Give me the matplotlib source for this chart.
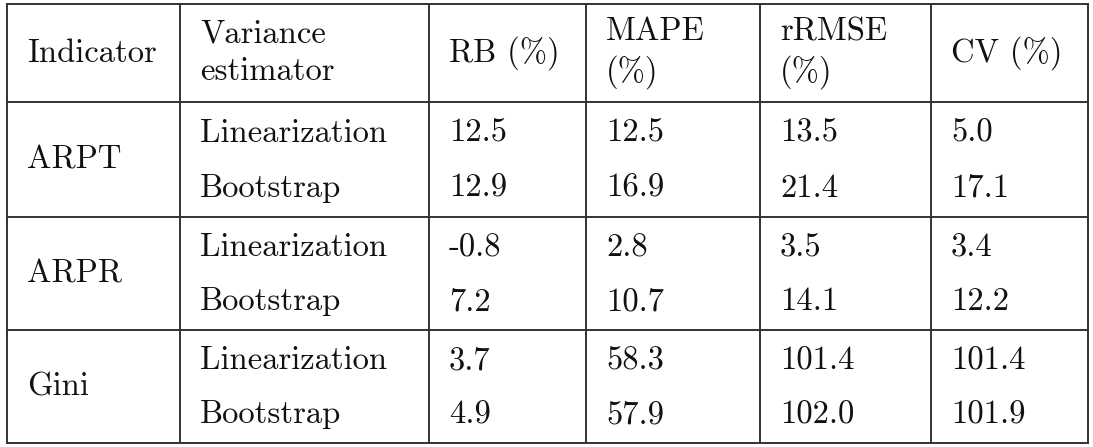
import matplotlib
matplotlib.use("Agg")
import matplotlib.pyplot as plt

headers = ["Indicator", "Variance\nestimator", "RB (%)", "MAPE\n(%)", "rRMSE\n(%)", "CV (%)"]
indicators = ["ARPT", "ARPR", "Gini"]
estimators = ["Linearization", "Bootstrap"]
rb = [12.5, 12.9, -0.8, 7.2, 3.7, 4.9]
mape = [12.5, 16.9, 2.8, 10.7, 58.3, 57.9]
rrmse = [13.5, 21.4, 3.5, 14.1, 101.4, 102.0]
cv = [5.0, 17.1, 3.4, 12.2, 101.4, 101.9]

W, H = 1093, 447
fig = plt.figure(figsize=(W / 100, H / 100), dpi=100)
ax = fig.add_axes([0, 0, 1, 1])
ax.set_xlim(0, W)
ax.set_ylim(H, 0)
ax.axis("off")

xs = [7, 180, 429, 586, 760, 931, 1088]
ys = [4, 102, 217, 330, 443]
lc = "#333333"
font = dict(family="cmr10", fontsize=23.5, color="#111111")

for x in xs:
    ax.plot([x, x], [ys[0], ys[-1]], color=lc, lw=1.4)
for y in ys:
    ax.plot([xs[0], xs[-1]], [y, y], color=lc, lw=1.4)

pad = 20
for i, h in enumerate(headers):
    ax.text(xs[i] + pad, (ys[0] + ys[1]) / 2, h, va="center", ha="left",
            linespacing=1.35, **font)

cols = [rb, mape, rrmse, cv]
for g, ind in enumerate(indicators):
    y0, y1 = ys[g + 1], ys[g + 2]
    ax.text(xs[0] + pad, (y0 + y1) / 2, ind, va="center", ha="left", **font)
    for r, est in enumerate(estimators):
        yy = y0 + (y1 - y0) * (0.27 + 0.48 * r)
        k = g * 2 + r
        ax.text(xs[1] + pad, yy, est, va="center", ha="left", **font)
        for c, vals in enumerate(cols):
            ax.text(xs[2 + c] + pad, yy, f"{vals[k]:.1f}", va="center", ha="left", **font)

fig.savefig("out.png", dpi=100)
